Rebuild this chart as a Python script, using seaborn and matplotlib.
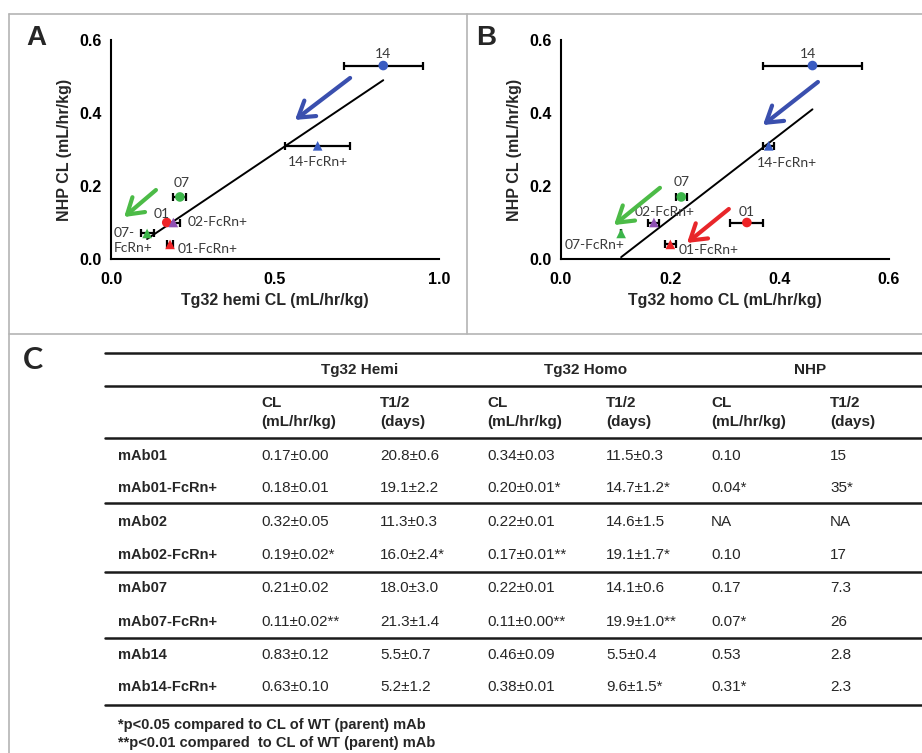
import numpy as np
import pandas as pd
import matplotlib
matplotlib.use('Agg')
import matplotlib.pyplot as plt
import seaborn as sns

sns.set_style('white')
plt.rcParams['font.family'] = ['Liberation Sans', 'DejaVu Sans']

# --- panel A / B data ---
names = ['14', '14-FcRn+', '07', '07-FcRn+', '01', '01-FcRn+', '02-FcRn+']
groups = ['14', '14', '07', '07', '01', '01', '02']
kinds = ['WT', 'FcRn+', 'WT', 'FcRn+', 'WT', 'FcRn+', 'FcRn+']
nhp_cl = [0.53, 0.31, 0.17, 0.07, 0.10, 0.04, 0.10]
hemi_cl = [0.83, 0.63, 0.21, 0.11, 0.17, 0.18, 0.19]
hemi_err = [0.12, 0.10, 0.02, 0.02, 0.00, 0.01, 0.02]
homo_cl = [0.46, 0.38, 0.22, 0.11, 0.34, 0.20, 0.17]
homo_err = [0.09, 0.01, 0.01, 0.00, 0.03, 0.01, 0.01]

# --- panel C table ---
row_names = ['mAb01', 'mAb01-FcRn+', 'mAb02', 'mAb02-FcRn+',
             'mAb07', 'mAb07-FcRn+', 'mAb14', 'mAb14-FcRn+']
hemi_cl_txt = ['0.17±0.00', '0.18±0.01', '0.32±0.05', '0.19±0.02*',
               '0.21±0.02', '0.11±0.02**', '0.83±0.12', '0.63±0.10']
hemi_t12_txt = ['20.8±0.6', '19.1±2.2', '11.3±0.3', '16.0±2.4*',
                '18.0±3.0', '21.3±1.4', '5.5±0.7', '5.2±1.2']
homo_cl_txt = ['0.34±0.03', '0.20±0.01*', '0.22±0.01', '0.17±0.01**',
               '0.22±0.01', '0.11±0.00**', '0.46±0.09', '0.38±0.01']
homo_t12_txt = ['11.5±0.3', '14.7±1.2*', '14.6±1.5', '19.1±1.7*',
                '14.1±0.6', '19.9±1.0**', '5.5±0.4', '9.6±1.5*']
nhp_cl_txt = ['0.10', '0.04*', 'NA', '0.10', '0.17', '0.07*', '0.53', '0.31*']
nhp_t12_txt = ['15', '35*', 'NA', '17', '7.3', '26', '2.8', '2.3']
group_headers = ['Tg32 Hemi', 'Tg32 Homo', 'NHP']
footnotes = ['*p<0.05 compared to CL of WT (parent) mAb',
             '**p<0.01 compared  to CL of WT (parent) mAb']

df = pd.DataFrame({'name': names, 'group': groups, 'kind': kinds, 'nhp': nhp_cl,
                   'hemi': hemi_cl, 'hemi_err': hemi_err,
                   'homo': homo_cl, 'homo_err': homo_err})

palette = {'14': '#3a5cc2', '07': '#3cb54a', '01': '#ee2326', '02': '#8e4fb3'}
markers = {'WT': 'o', 'FcRn+': '^'}

fig = plt.figure(figsize=(9.22, 7.53), dpi=100)

# overlay in pixel coords for frames, letters and table
ov = fig.add_axes([0, 0, 1, 1])
ov.set_xlim(0, 922)
ov.set_ylim(753, 0)
ov.axis('off')
gray = '#b4b4b4'
ov.plot([9, 922], [14, 14], color=gray, lw=1.2)
ov.plot([9, 9], [14, 753], color=gray, lw=1.2)
ov.plot([9, 922], [334, 334], color=gray, lw=1.2)
ov.plot([467, 467], [14, 334], color=gray, lw=1.2)
ov.text(36, 38, 'A', fontsize=20, fontweight='bold', ha='center', va='center')
ov.text(486, 38, 'B', fontsize=20, fontweight='bold', ha='center', va='center')
ov.text(33, 360, 'C', fontsize=22, fontweight='bold', ha='center', va='center',
        family=['Lato', 'DejaVu Sans'])

# table
for y in [353, 386, 438, 503, 572, 638, 705]:
    ov.plot([105, 922], [y, y], color='#1a1a1a', lw=1.8)
for txt, x in zip(group_headers, [360, 586, 810]):
    ov.text(x, 370, txt, fontsize=11, fontweight='bold', ha='center', va='center')
col_x = [261, 380, 487, 606, 711, 830]
for i, x in enumerate(col_x):
    if i % 2 == 0:
        top, bot = 'CL', '(mL/hr/kg)'
    else:
        top, bot = 'T1/2', '(days)'
    ov.text(x, 403, top, fontsize=11, fontweight='bold', ha='left', va='center')
    ov.text(x, 422, bot, fontsize=11, fontweight='bold', ha='left', va='center')
row_y = [456, 488, 522, 555, 588, 622, 655, 687]
cols = [hemi_cl_txt, hemi_t12_txt, homo_cl_txt, homo_t12_txt, nhp_cl_txt, nhp_t12_txt]
for r, y in enumerate(row_y):
    ov.text(118, y, row_names[r], fontsize=10.5, fontweight='bold', ha='left', va='center')
    for c, x in enumerate(col_x):
        ov.text(x, y, cols[c][r], fontsize=11, ha='left', va='center')
for txt, y in zip(footnotes, [725, 743]):
    ov.text(118, y, txt, fontsize=10.5, fontweight='bold', ha='left', va='center')

# label offsets (pixels) relative to each point
offs_a = {'14': (0, 12, 'center'), '14-FcRn+': (0, -16, 'center'), '07': (2, 14, 'center'),
          '01': (-5, 9, 'center'), '02-FcRn+': (14, 0, 'left'),
          '07-FcRn+': (-33, -7, 'left'), '01-FcRn+': (8, -5, 'left')}
offs_b = {'14': (-4, 12, 'center'), '14-FcRn+': (18, -17, 'center'), '07': (0, 15, 'center'),
          '01': (0, 11, 'center'), '02-FcRn+': (11, 11, 'center'),
          '07-FcRn+': (-27, -12, 'center'), '01-FcRn+': (38, -6, 'center')}

arrows_a = [((0.729, 0.496), (0.561, 0.381), '#3a4fae'),
            ((0.137, 0.189), (0.040, 0.115), '#4cbb47')]
arrows_b = [((0.470, 0.485), (0.3695, 0.367), '#3a4fae'),
            ((0.181, 0.195), (0.097, 0.093), '#4cbb47'),
            ((0.307, 0.137), (0.2305, 0.044), '#e8262a')]

panels = [
    ([111 / 922, 494 / 753, 328 / 922, 219 / 753], 'hemi', 'hemi_err', 1.0, [0, 0.5, 1.0],
     'Tg32 hemi CL (mL/hr/kg)', offs_a, arrows_a),
    ([561 / 922, 494 / 753, 328 / 922, 219 / 753], 'homo', 'homo_err', 0.6, [0, 0.2, 0.4, 0.6],
     'Tg32 homo CL (mL/hr/kg)', offs_b, arrows_b),
]

for pos, xcol, ecol, xmax, xticks, xlabel, offs, arrows in panels:
    ax = fig.add_axes(pos)
    sns.regplot(data=df, x=xcol, y='nhp', scatter=False, ci=None, color='black',
                line_kws={'lw': 1.4, 'zorder': 1}, ax=ax)
    ax.errorbar(df[xcol], df['nhp'], xerr=df[ecol], fmt='none', ecolor='black',
                elinewidth=1.6, capsize=3, capthick=1.6, zorder=2)
    sns.scatterplot(data=df, x=xcol, y='nhp', hue='group', style='kind', palette=palette,
                    markers=markers, s=48, edgecolor='none', legend=False, ax=ax, zorder=3)
    for _, row in df.iterrows():
        dx, dy, ha = offs[row['name']]
        label = row['name']
        if xcol == 'hemi' and label == '07-FcRn+':
            label = '07-\nFcRn+'
        ax.annotate(label, (row[xcol], row['nhp']), xytext=(dx, dy), textcoords='offset pixels',
                    ha=ha, va='center', fontsize=10, color='#3a3a3a',
                    family=['Lato', 'DejaVu Sans'], linespacing=1.3)
    for tail, head, c in arrows:
        ax.annotate('', xy=head, xytext=tail,
                    arrowprops=dict(arrowstyle='->,head_length=0.55,head_width=0.35',
                                    color=c, lw=3, mutation_scale=20, shrinkA=0, shrinkB=0))
    ax.set_xlim(0, xmax)
    ax.set_ylim(0, 0.6)
    ax.set_xticks(xticks)
    ax.set_yticks([0, 0.2, 0.4, 0.6])
    ax.xaxis.set_major_formatter(matplotlib.ticker.FormatStrFormatter('%.1f'))
    ax.yaxis.set_major_formatter(matplotlib.ticker.FormatStrFormatter('%.1f'))
    for s in ['top', 'right']:
        ax.spines[s].set_visible(False)
    for s in ['left', 'bottom']:
        ax.spines[s].set_linewidth(1.5)
        ax.spines[s].set_color('black')
    ax.tick_params(direction='out', length=4, width=1.5, labelsize=11.5, colors='black')
    ax.tick_params(axis='x', pad=5)
    ax.tick_params(axis='y', pad=3)
    for lab in ax.get_xticklabels() + ax.get_yticklabels():
        lab.set_fontweight('bold')
    ax.set_xlabel(xlabel, fontsize=11.5, fontweight='bold')
    ax.set_ylabel('NHP CL (mL/hr/kg)', fontsize=11.5, fontweight='bold')
    ax.xaxis.set_label_coords(0.5, -0.155)
    ax.yaxis.set_label_coords(-0.119, 0.5)
    ax.patch.set_alpha(0)

fig.savefig('out.png', dpi=100)
